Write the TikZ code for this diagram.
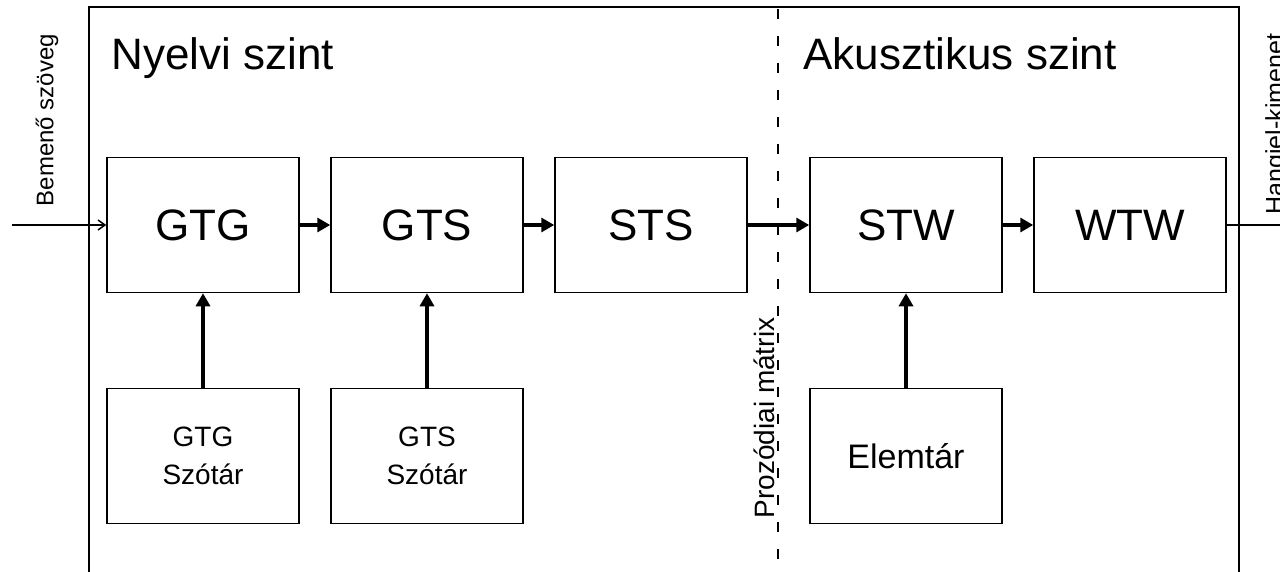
\documentclass[tikz,border=0pt]{standalone}
\usepackage{fontspec}
\setsansfont{Liberation Sans}
\usepackage{tikz}
\usetikzlibrary{arrows.meta,positioning}
\tikzset{block/.style={draw=black,line width=1.5pt,minimum width=192pt,minimum height=135pt,inner sep=0pt,align=center,font=\sffamily\fontsize{44}{48}\selectfont},dict/.style={block,font=\sffamily\fontsize{28}{38}\selectfont},arr/.style={-{Triangle[length=13pt,width=14pt]},line width=3.2pt},side/.style={rotate=90,font=\sffamily\fontsize{24}{28}\selectfont}}

\begin{document}
\begin{tikzpicture}[x=1pt,y=-1pt,thin/.style={line width=1.5pt},head/.style={anchor=base west,font=\sffamily\fontsize{44}{48}\selectfont}]
\useasboundingbox (0,0) rectangle (1280,572);
\draw[line width=1.8pt] (89,575)--(89,7)--(1239,7)--(1239,575);
\draw[thin,dash pattern=on 10pt off 17pt] (778,9)--(778,575);
\node[head] (ling) at (108,70) {Nyelvi szint};
\node[head] (acou) at (800,70) {Akusztikus szint};
\foreach \x/\id/\txt in {203/gtg/GTG,427/gts/GTS,651/sts/STS,906/stw/STW,1130/wtw/WTW}{\node[block] (\id) at (\x,225) {\txt};}
\node[dict] (gtgdict) at (203,456) {GTG\\Szótár};
\node[dict] (gtsdict) at (427,456) {GTS\\Szótár};
\node[dict,font=\sffamily\fontsize{34}{38}\selectfont] (elem) at (906,456) {Elemtár};
\foreach \a/\b in {gtg/gts,gts/sts,sts/stw,stw/wtw}{\draw[arr] (\a)--(\b);}
\foreach \a/\b in {gtgdict/gtg,gtsdict/gts,elem/stw}{\draw[arr] (\a)--(\b);}
\coordinate (src) at (12,225);
\coordinate (sink) at (1285,225);
\draw[thin,-{Straight Barb[length=7pt,width=10pt]}] (src)--(gtg);
\draw[thin] (wtw)--(sink);
\node[side] (in) at (47,120) {Bemenő szöveg};
\node[side,font=\sffamily\fontsize{28}{32}\selectfont] (prozod) at (764,418) {Prozódiai mátrix};
\node[side,font=\sffamily\fontsize{25}{28}\selectfont] (out) at (1277,124) {Hangjel-kimenet};
\end{tikzpicture}
\end{document}
